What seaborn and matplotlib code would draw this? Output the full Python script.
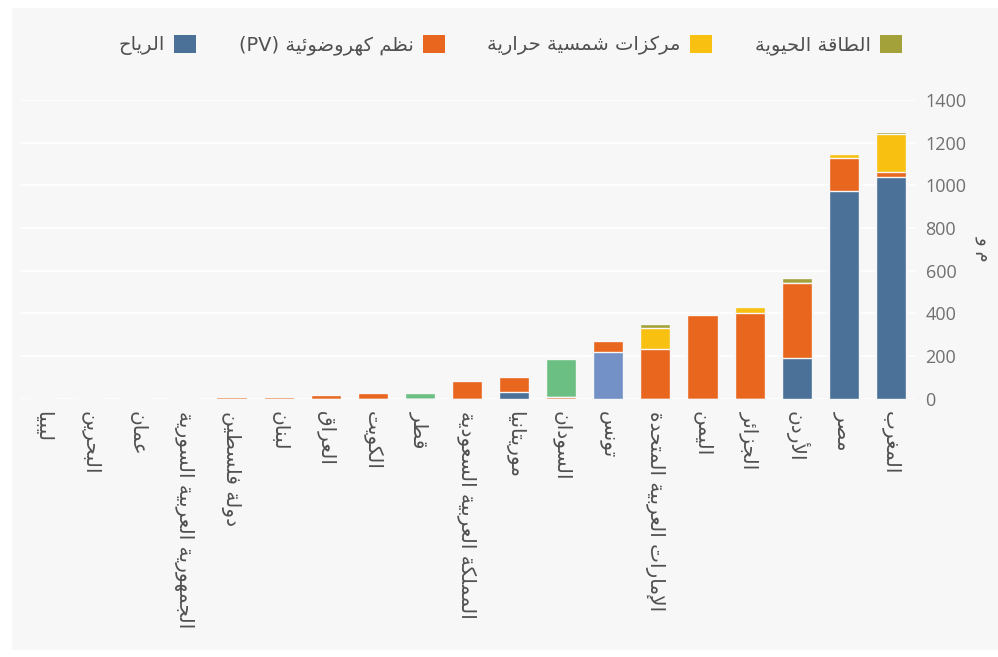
import re
import numpy as np
import pandas as pd
import matplotlib
matplotlib.use("Agg")
import matplotlib.pyplot as plt
from matplotlib.patches import Patch, Rectangle
import seaborn as sns

# ---------------- data ----------------
countries = ['ليبيا', 'البحرين', 'عمان', 'الجمهورية العربية السورية', 'دولة فلسطين',
             'لبنان', 'العراق', 'الكويت', 'قطر', 'المملكة العربية السعودية', 'موريتانيا',
             'السودان', 'تونس', 'الإمارات العربية المتحدة', 'اليمن', 'الجزائر', 'الأردن',
             'مصر', 'المغرب']
wind = [0, 0, 0, 0, 0, 0, 0, 0, 0, 0, 30, 0, 220, 0, 0, 0, 190, 975, 1040]
pv   = [0, 0, 0, 0, 8, 8, 15, 28, 0, 83, 72, 8, 50, 232, 392, 400, 350, 155, 20]
csp  = [0, 0, 0, 0, 0, 0, 0, 0, 0, 0, 0, 0, 0, 100, 0, 30, 0, 15, 180]
bio  = [0, 0, 0, 0, 0, 0, 0, 0, 28, 0, 0, 177, 0, 18, 0, 0, 25, 0, 12]
series_names = ['الرياح', 'نظم كهروضوئية (PV)', 'مركزات شمسية حرارية', 'الطاقة الحيوية']
y_ticks = [0, 200, 400, 600, 800, 1000, 1200, 1400]
y_label = 'م و'

# ---------------- Arabic shaping (presentation forms + visual order) ----------------
_base = [('ب', 0xFE8F, 4), ('ة', 0xFE93, 2), ('ت', 0xFE95, 4), ('ث', 0xFE99, 4),
         ('ج', 0xFE9D, 4), ('ح', 0xFEA1, 4), ('خ', 0xFEA5, 4), ('د', 0xFEA9, 2),
         ('ذ', 0xFEAB, 2), ('ر', 0xFEAD, 2), ('ز', 0xFEAF, 2), ('س', 0xFEB1, 4),
         ('ش', 0xFEB5, 4), ('ص', 0xFEB9, 4), ('ض', 0xFEBD, 4), ('ط', 0xFEC1, 4),
         ('ظ', 0xFEC5, 4), ('ع', 0xFEC9, 4), ('غ', 0xFECD, 4), ('ف', 0xFED1, 4),
         ('ق', 0xFED5, 4), ('ك', 0xFED9, 4), ('ل', 0xFEDD, 4), ('م', 0xFEE1, 4),
         ('ن', 0xFEE5, 4), ('ه', 0xFEE9, 4), ('و', 0xFEED, 2), ('ى', 0xFEEF, 2),
         ('ي', 0xFEF1, 4), ('ء', 0xFE80, 1), ('آ', 0xFE81, 2), ('أ', 0xFE83, 2),
         ('ؤ', 0xFE85, 2), ('إ', 0xFE87, 2), ('ئ', 0xFE89, 4), ('ا', 0xFE8D, 2)]
FORMS = {c: tuple(chr(s + k) for k in range(n)) for c, s, n in _base}
LAMALEF = {'آ': ('\uFEF5', '\uFEF6'), 'أ': ('\uFEF7', '\uFEF8'),
           'إ': ('\uFEF9', '\uFEFA'), 'ا': ('\uFEFB', '\uFEFC')}


def shape(s):
    toks = []
    i = 0
    while i < len(s):
        c = s[i]
        if c == 'ل' and i + 1 < len(s) and s[i + 1] in LAMALEF:
            toks.append(LAMALEF[s[i + 1]])
            i += 2
        elif c in FORMS:
            toks.append(FORMS[c])
            i += 1
        else:
            toks.append((c,))
            i += 1
    out = []
    for j, t in enumerate(toks):
        if len(t) == 1:
            out.append(t[0])
            continue
        prev_j = j > 0 and len(toks[j - 1]) == 4
        next_j = len(t) == 4 and j + 1 < len(toks) and len(toks[j + 1]) >= 2
        if prev_j and next_j:
            out.append(t[3])
        elif prev_j:
            out.append(t[1])
        elif next_j:
            out.append(t[2])
        else:
            out.append(t[0])
    vis = ''.join(out)[::-1]
    vis = vis.translate(str.maketrans('()', ')('))
    vis = re.sub(r'[A-Za-z0-9]+', lambda m: m.group(0)[::-1], vis)
    return vis


# ---------------- style ----------------
sns.set_theme(style="white")
plt.rcParams['font.family'] = ['DejaVu Sans']

c_wind, c_pv, c_csp, c_bio = '#4B7199', '#E8661E', '#F8C112', '#A3A23A'
overrides = {('تونس', 0): '#7390C7', ('السودان', 3): '#6CBF83', ('قطر', 3): '#6CBF83'}

fig = plt.figure(figsize=(9.98, 6.57), dpi=100)
fig.patch.set_facecolor('white')
fig.patches.append(Rectangle((12 / 998, 1 - 650 / 657), 1 - 12 / 998, (650 - 8) / 657,
                             transform=fig.transFigure, facecolor='#F7F7F7',
                             edgecolor='none', zorder=-10))
ax = fig.add_axes([19.5 / 998, 1 - 398.5 / 657, (914.5 - 19.5) / 998, (398.5 - 100) / 657])
ax.set_facecolor('none')

layers = [wind, pv, csp, bio]
colors = [c_wind, c_pv, c_csp, c_bio]
cum = np.cumsum(np.array(layers, dtype=float), axis=0)

for k in range(3, -1, -1):
    df = pd.DataFrame({'country': countries, 'value': cum[k]})
    sns.barplot(data=df, x='country', y='value', order=countries, color=colors[k],
                saturation=1, width=0.64, errorbar=None, edgecolor='#F7F7F7',
                linewidth=1.0, ax=ax, zorder=3)
    cont = ax.containers[-1]
    for idx, name in enumerate(countries):
        if (name, k) in overrides:
            cont.patches[idx].set_facecolor(overrides[(name, k)])

ax.set_xlim(-0.5, len(countries) - 0.5)
ax.set_ylim(0, 1400)
ax.set_yticks(y_ticks)
ax.yaxis.tick_right()
ax.yaxis.set_label_position('right')
ax.set_yticklabels([str(v) for v in y_ticks], fontsize=13, color='#707070',
                   family=['Open Sans', 'DejaVu Sans'])
ax.set_xticks(range(len(countries)))
ax.set_xticklabels([shape(c) for c in countries], rotation=270, ha='center', va='top',
                   fontsize=14.5, color='#505050')
ax.tick_params(axis='both', length=0)
ax.tick_params(axis='y', pad=8)
ax.tick_params(axis='x', pad=9)
ax.set_xlabel('')
ax.set_ylabel(shape(y_label), rotation=270, fontsize=13, color='#505050',
              va='center', ha='center')
ax.yaxis.set_label_coords((985 - 19.5) / 895, 0.5)
ax.grid(axis='y', color='#FFFFFF', linewidth=1.2, zorder=0)
ax.grid(axis='x', visible=False)
for s in ax.spines.values():
    s.set_visible(False)

handles = [Patch(facecolor=c, edgecolor='none') for c in colors]
fig.legend(handles, [shape(n) for n in series_names], loc='center',
           bbox_to_anchor=(0.511, 1 - 45 / 657), ncol=4, frameon=False, markerfirst=False,
           handlelength=1.1, handleheight=1.1, handletextpad=0.5, columnspacing=2.2,
           prop={'size': 14}, labelcolor='#505050')

fig.savefig('out.png', dpi=100, facecolor='white')
